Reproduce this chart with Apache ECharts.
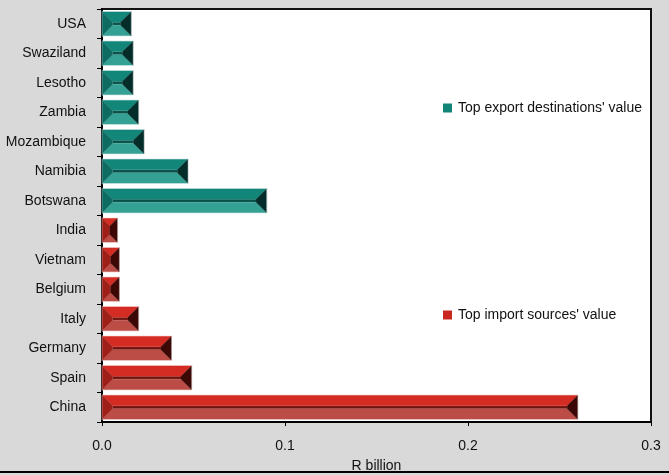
<!DOCTYPE html>
<html>
<head>
<meta charset="utf-8">
<script src="https://cdn.jsdelivr.net/npm/echarts@6/dist/echarts.min.js"></script>
<style>
html,body{margin:0;padding:0;background:#d9d9d9;}
#chart{width:669px;height:475px;}
</style>
</head>
<body>
<div id="chart"></div>
<script>
// ---- data ----
const exportCountries = ['USA', 'Swaziland', 'Lesotho', 'Zambia', 'Mozambique', 'Namibia', 'Botswana'];
const exportValues = [0.016, 0.017, 0.017, 0.020, 0.023, 0.047, 0.090];
const importCountries = ['India', 'Vietnam', 'Belgium', 'Italy', 'Germany', 'Spain', 'China'];
const importValues = [0.0085, 0.0095, 0.0095, 0.020, 0.038, 0.049, 0.260];
const categories = exportCountries.concat(importCountries);
const exportName = "Top export destinations' value";
const importName = "Top import sources' value";
const axisName = 'R billion';

const FONT = '"Liberation Sans Narrow", "Liberation Sans", Arial, sans-serif';

const tealColors = {top: '#13867a', mid: '#0a514a', bottom: '#35a094', left: '#0d6b62', right: '#042c28'};
const redColors = {top: '#d42b22', mid: '#701612', bottom: '#bb4d46', left: '#9e1f18', right: '#3b0805'};

function bevel(colors) {
  return function (params, api) {
    const idx = api.value(1);
    const v = api.value(0);
    const p0 = api.coord([0, idx]);
    const p1 = api.coord([v, idx]);
    const band = api.size([0, 1])[1];
    const h = band * 0.82;
    const x0 = p0[0], x1 = p1[0];
    const y0 = p0[1] - h / 2, y1 = p0[1] + h / 2;
    const w = x1 - x0;
    const d = Math.min(h * 0.44, w / 2);
    const ix0 = x0 + d, ix1 = x1 - d, iy0 = y0 + d, iy1 = y1 - d;
    const poly = (pts, c) => ({type: 'polygon', shape: {points: pts}, style: {fill: c, stroke: c, lineWidth: 0.3}});
    return {
      type: 'group',
      children: [
        {type: 'rect', shape: {x: ix0, y: iy0, width: ix1 - ix0, height: iy1 - iy0}, style: {fill: colors.mid}},
        poly([[x0, y0], [x1, y0], [ix1, iy0], [ix0, iy0]], colors.top),
        poly([[x0, y1], [x1, y1], [ix1, iy1], [ix0, iy1]], colors.bottom),
        poly([[x0, y0], [ix0, iy0], [ix0, iy1], [x0, y1]], colors.left),
        poly([[x1, y0], [ix1, iy0], [ix1, iy1], [x1, y1]], colors.right),
        {type: 'rect', shape: {x: x0, y: y0 - 0.5, width: w, height: h + 1}, style: {fill: 'none', stroke: 'rgba(255,255,255,0.35)', lineWidth: 1}}
      ]
    };
  };
}

const chart = echarts.init(document.getElementById('chart'), null, {renderer: 'canvas'});
chart.setOption({
  backgroundColor: '#d9d9d9',
  animation: false,
  textStyle: {fontFamily: FONT},
  grid: {left: 102, right: 18, top: 9, bottom: 53, show: true, backgroundColor: '#ffffff', borderColor: '#111111', borderWidth: 2,
         outerBoundsMode: 'none', containLabel: false},
  legend: [
    {data: [{name: exportName, icon: 'rect'}], left: 443, top: 101, padding: 0, itemWidth: 9, itemHeight: 9, itemGap: 0,
     textStyle: {fontFamily: FONT, fontSize: 14, color: '#111', padding: [0, 0, 0, 1]}, selectedMode: false},
    {data: [{name: importName, icon: 'rect'}], left: 443, top: 308, padding: 0, itemWidth: 9, itemHeight: 9, itemGap: 0,
     textStyle: {fontFamily: FONT, fontSize: 14, color: '#111', padding: [0, 0, 0, 1]}, selectedMode: false}
  ],
  xAxis: {
    type: 'value', min: 0, max: 0.3, interval: 0.1,
    name: axisName, nameLocation: 'middle', nameGap: 37,
    nameTextStyle: {fontFamily: FONT, fontSize: 14, color: '#111'},
    axisLine: {show: true, lineStyle: {color: '#000', width: 2}},
    axisTick: {show: true, length: 4, lineStyle: {color: '#000'}},
    axisLabel: {fontFamily: FONT, fontSize: 14, color: '#111', margin: 17, formatter: v => v.toFixed(1)},
    splitLine: {show: false}
  },
  yAxis: {
    type: 'category', data: categories, inverse: true,
    axisLine: {show: true, lineStyle: {color: '#000', width: 2}},
    axisTick: {show: true, length: 5, lineStyle: {color: '#000'}},
    axisLabel: {fontFamily: FONT, fontSize: 14, color: '#111', margin: 16},
    splitLine: {show: false}
  },
  series: [
    {name: exportName, type: 'custom', renderItem: bevel(tealColors), itemStyle: {color: '#138478'},
     encode: {x: 0, y: 1}, data: exportCountries.map((c, i) => [exportValues[i], c])},
    {name: importName, type: 'custom', renderItem: bevel(redColors), itemStyle: {color: '#c8261e'},
     encode: {x: 0, y: 1}, data: importCountries.map((c, i) => [importValues[i], c])}
  ],
  graphic: [
    {type: 'line', z: 100, shape: {x1: 0, y1: 472, x2: 669, y2: 472}, style: {stroke: '#000', lineWidth: 2}}
  ]
});
</script>
</body>
</html>
